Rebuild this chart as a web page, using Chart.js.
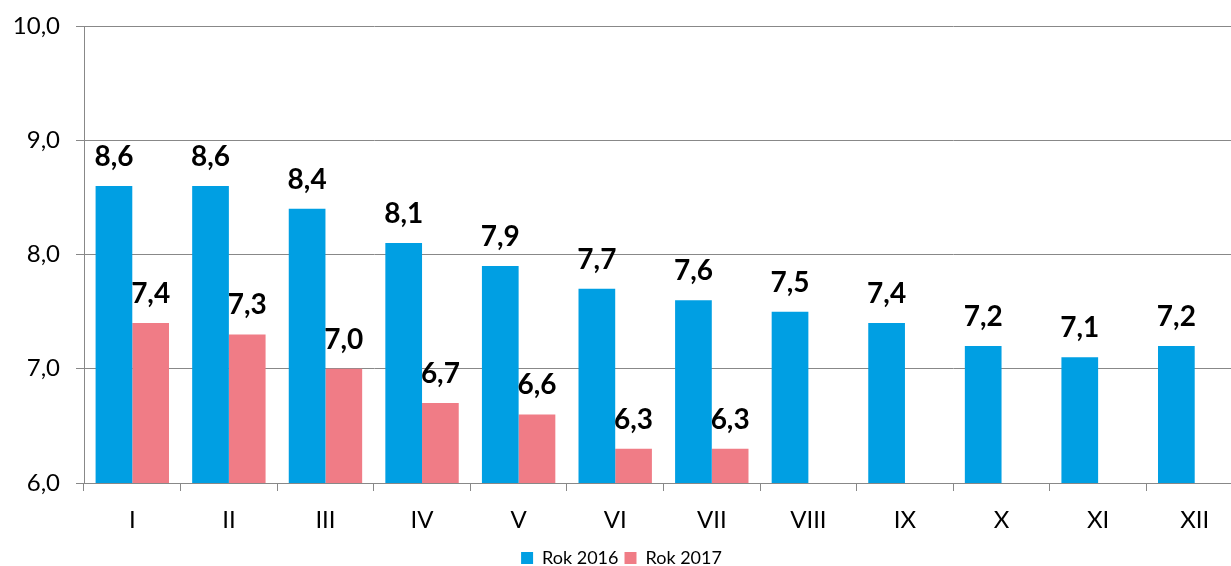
<!DOCTYPE html>
<html>
<head>
<meta charset="utf-8">
<script src="https://cdn.jsdelivr.net/npm/chart.js@4.4.1/dist/chart.umd.min.js"></script>
<style>
  html, body { margin: 0; padding: 0; background: #fff; overflow: hidden; }
  #wrap { width: 1243px; height: 566px; }
</style>
</head>
<body>
<div id="wrap"><canvas id="chart"></canvas></div>
<script>
const months = ['I', 'II', 'III', 'IV', 'V', 'VI', 'VII', 'VIII', 'IX', 'X', 'XI', 'XII'];
const rok2016 = [8.6, 8.6, 8.4, 8.1, 7.9, 7.7, 7.6, 7.5, 7.4, 7.2, 7.1, 7.2];
const rok2017 = [7.4, 7.3, 7.0, 6.7, 6.6, 6.3, 6.3, null, null, null, null, null];
const seriesNames = ['Rok 2016', 'Rok 2017'];
const seriesColors = ['#009FE3', '#F07C86'];

const fontFamily = 'Lato, "Open Sans", sans-serif';

// bold value labels over each bar, with a comma as decimal mark
const valueLabels = {
    id: 'valueLabels',
    afterDatasetsDraw(chart) {
        const ctx = chart.ctx;
        ctx.save();
        ctx.font = 'bold 28px ' + fontFamily;
        ctx.fillStyle = '#000';
        ctx.textAlign = 'center';
        ctx.textBaseline = 'alphabetic';
        chart.data.datasets.forEach((ds, i) => {
            chart.getDatasetMeta(i).data.forEach((bar, j) => {
                const v = ds.data[j];
                if (v == null) return;
                ctx.fillText(v.toFixed(1).replace('.', ','), bar.x, bar.y - 20);
            });
        });
        ctx.restore();
    }
};

new Chart(document.getElementById('chart'), {
    type: 'bar',
    data: {
        labels: months,
        datasets: [
            { label: seriesNames[0], data: rok2016, backgroundColor: seriesColors[0] },
            { label: seriesNames[1], data: rok2017, backgroundColor: seriesColors[1] }
        ]
    },
    options: {
        responsive: true,
        maintainAspectRatio: false,
        animation: false,
        layout: { padding: { top: 26, right: 0, left: 0, bottom: -11 } },
        datasets: { bar: { categoryPercentage: 0.76, barPercentage: 1.0 } },
        scales: {
            x: {
                grid: { display: true, drawOnChartArea: false, offset: true, tickLength: 8, color: '#888' },
                border: { color: '#888' },
                ticks: { color: '#000', font: { family: fontFamily, size: 24 }, padding: 15 },
                afterFit: s => { s.height = 60; }
            },
            y: {
                min: 6, max: 10,
                ticks: {
                    stepSize: 1,
                    color: '#000',
                    font: { family: fontFamily, size: 24 },
                    padding: 16,
                    callback: v => v.toFixed(1).replace('.', ',')
                },
                grid: { color: '#888', tickLength: 8 },
                border: { color: '#888' },
                afterFit: s => { s.width = 84; s.paddingTop = 0; s.paddingBottom = 0; }
            }
        },
        plugins: {
            legend: {
                position: 'bottom',
                labels: {
                    boxWidth: 12, boxHeight: 12, padding: 6,
                    color: '#000',
                    font: { family: fontFamily, size: 18 }
                }
            },
            tooltip: { enabled: false }
        }
    },
    plugins: [valueLabels]
});
</script>
</body>
</html>
